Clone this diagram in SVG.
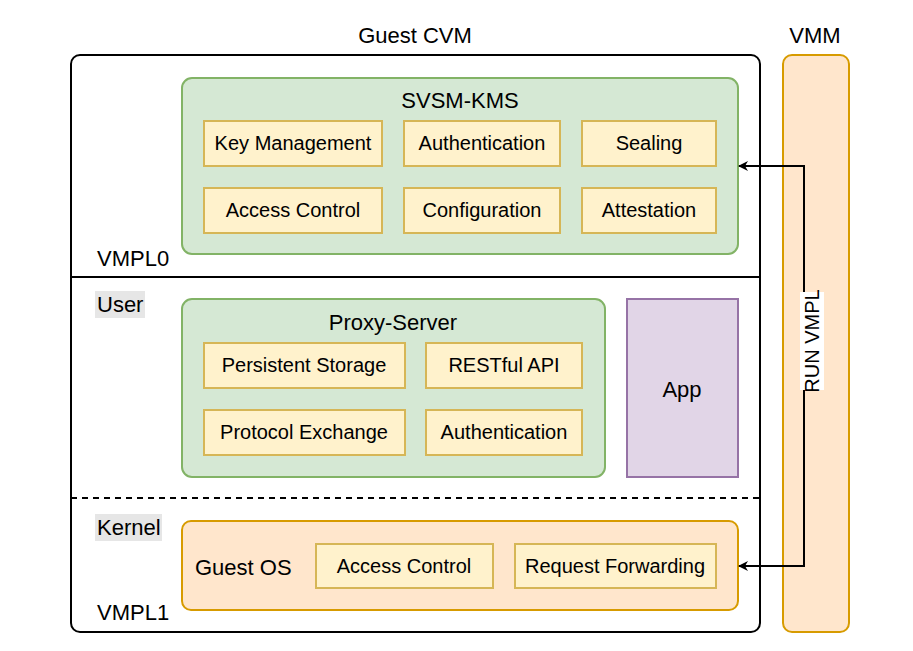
<svg xmlns="http://www.w3.org/2000/svg" width="913" height="651" viewBox="0 0 913 651">
<style>
text{font-family:"Liberation Sans",Arial,sans-serif;fill:#000;font-size:20px}
.t{font-size:22px}
.c{text-anchor:middle;dominant-baseline:central}
.g{fill:#d5e8d4;stroke:#82b366;stroke-width:2}
.y{fill:#fff2cc;stroke:#d6b656;stroke-width:2}
.o{fill:#ffe6cc;stroke:#d79b00;stroke-width:2}
.p{fill:#e1d5e7;stroke:#9673a6;stroke-width:2}
.l{dominant-baseline:central;font-size:22px}
</style>
<defs><marker id="a" markerWidth="10" markerHeight="10" refX="9" refY="5" orient="auto" markerUnits="userSpaceOnUse"><path d="M0,0L10,5L0,10L3,5Z" fill="#000"/></marker></defs>
<rect width="913" height="651" fill="#fff"/>
<g id="cvm">
<rect x="71" y="55" width="689" height="577" rx="9" fill="#fff" stroke="#000" stroke-width="2"/>
<line x1="71" y1="277" x2="760" y2="277" stroke="#000" stroke-width="2"/>
<line x1="71" y1="498" x2="760" y2="498" stroke="#000" stroke-width="2" stroke-dasharray="6,5"/>
<text class="c t" x="415" y="35">Guest CVM</text>
<text class="l" x="97" y="258">VMPL0</text>
<text class="l" x="97" y="612">VMPL1</text>
<rect x="95" y="291" width="50" height="27" fill="#e6e6e6"/>
<text class="l" x="97" y="304">User</text>
<rect x="95" y="514" width="67" height="27" fill="#e6e6e6"/>
<text class="l" x="97" y="527">Kernel</text>
</g>
<g id="vmm">
<rect x="783" y="55" width="66" height="577" rx="9" class="o"/>
<text class="c t" x="815" y="35">VMM</text>
</g>
<g id="svsm">
<rect x="182" y="78" width="556" height="176" rx="10" class="g"/>
<text class="c t" x="460" y="100">SVSM-KMS</text>
<rect x="204" y="121" width="178" height="45" class="y"/><text class="c" x="293" y="143">Key Management</text>
<rect x="404" y="121" width="156" height="45" class="y"/><text class="c" x="482" y="143">Authentication</text>
<rect x="582" y="121" width="134" height="45" class="y"/><text class="c" x="649" y="143">Sealing</text>
<rect x="204" y="188" width="178" height="45" class="y"/><text class="c" x="293" y="210">Access Control</text>
<rect x="404" y="188" width="156" height="45" class="y"/><text class="c" x="482" y="210">Configuration</text>
<rect x="582" y="188" width="134" height="45" class="y"/><text class="c" x="649" y="210">Attestation</text>
</g>
<g id="proxy">
<rect x="182" y="299" width="423" height="178" rx="10" class="g"/>
<text class="c t" x="393" y="322">Proxy-Server</text>
<rect x="204" y="343" width="201" height="45" class="y"/><text class="c" x="304" y="365">Persistent Storage</text>
<rect x="426" y="343" width="156" height="45" class="y"/><text class="c" x="504" y="365">RESTful API</text>
<rect x="204" y="410" width="201" height="45" class="y"/><text class="c" x="304" y="432">Protocol Exchange</text>
<rect x="426" y="410" width="156" height="45" class="y"/><text class="c" x="504" y="432">Authentication</text>
</g>
<g id="app">
<rect x="627" y="299" width="111" height="178" class="p"/>
<text class="c t" x="682" y="389">App</text>
</g>
<g id="guestos">
<rect x="182" y="521" width="556" height="89" rx="9" class="o"/>
<text class="l" x="195" y="567">Guest OS</text>
<rect x="316" y="544" width="177" height="44" class="y"/><text class="c" x="404" y="566">Access Control</text>
<rect x="515" y="544" width="201" height="44" class="y"/><text class="c" x="615" y="566">Request Forwarding</text>
</g>
<g id="connectors">
<path d="M804,341V166H739" fill="none" stroke="#000" stroke-width="2" marker-end="url(#a)"/>
<path d="M804,341V566H739" fill="none" stroke="#000" stroke-width="2" marker-end="url(#a)"/>
<rect x="800" y="292" width="24" height="98" fill="#fff"/>
<text class="c" transform="translate(812,341) rotate(-90)">RUN VMPL</text>
</g>
</svg>
